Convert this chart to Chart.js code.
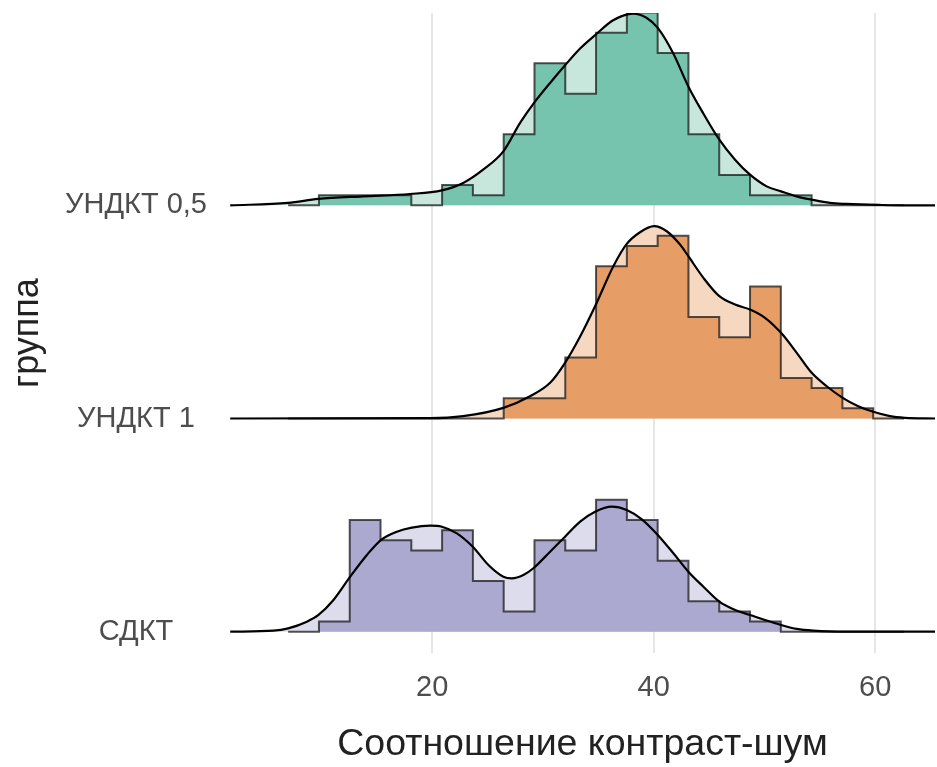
<!DOCTYPE html>
<html>
<head>
<meta charset="utf-8">
<script src="https://cdn.jsdelivr.net/npm/chart.js@4.4.1/dist/chart.umd.min.js"></script>
<style>
  html, body { margin: 0; padding: 0; background: #fff; }
  canvas { display: block; }
</style>
</head>
<body>
<canvas id="chart" width="937" height="767"></canvas>
<script>
// groups, bottom to top
const groups = ["СДКТ", "УНДКТ 1", "УНДКТ 0,5"];

// shared histogram bin edges (width ~2.78)
const binEdges = [7.00, 9.78, 12.56, 15.34, 18.12, 20.90, 23.68, 26.46, 29.24, 32.02,
  34.80, 37.58, 40.36, 43.14, 45.92, 48.70, 51.48, 54.26, 57.04, 59.82, 62.60];

// counts per bin
const countsSDKT = [0, 1, 11, 9, 8, 10, 5, 2, 9, 8, 13, 11, 7, 3, 2, 1, 0, 0, 0, 0];
const countsUNDKT1 = [0, 0, 0, 0, 0, 0, 0, 2, 2, 6, 15, 17, 18, 10, 8, 13, 4, 3, 1, 0];
const countsUNDKT05 = [0, 1, 1, 1, 0, 2, 1, 7, 14, 11, 17, 19, 15, 7, 3, 1, 1, 0, 0, 0];

// density curves (same units as counts)
const densXSDKT = [1.77, 5.68, 7.0, 8.69, 9.74, 11.09, 12.6, 14.11, 15.37, 16.81, 18.17, 19.82,
  20.88, 22.23, 23.67, 25.08, 26.43, 27.19, 28.24, 29.14, 30.65, 32.0, 33.36, 34.71, 36.22,
  37.57, 38.93, 40.37, 41.78, 43.13, 44.49, 45.93, 47.35, 48.7, 50.05, 51.5, 52.92, 54.41, 57.43, 65.4];
const densSDKT = [0, 0.1, 0.33, 0.99, 1.65, 3.12, 5.42, 7.56, 9.03, 9.85, 10.25, 10.44,
  10.34, 9.69, 8.37, 6.57, 5.42, 5.26, 5.59, 6.25, 7.88, 9.36, 10.84, 11.82, 12.32,
  11.99, 11.07, 9.53, 7.72, 5.91, 4.43, 2.96, 2.14, 1.65, 1.15, 0.66, 0.27, 0.1, 0, 0];

const densXUNDKT1 = [1.77, 19.8, 22.8, 26.43, 28.84, 30.65, 32.0, 33.36, 34.71, 36.36, 37.57,
  38.77, 40.04, 41.18, 42.38, 43.13, 44.49, 45.93, 47.35, 48.7, 50.05, 51.5, 52.92, 54.27,
  55.62, 57.07, 58.47, 59.83, 61.34, 62.69, 65.4];
const densUNDKT1 = [0, 0.03, 0.23, 1.05, 2.2, 3.52, 5.49, 8.08, 11.06, 15.0, 17.2,
  18.35, 18.95, 18.45, 17.14, 15.99, 13.86, 12.05, 11.23, 10.74, 9.92, 8.44, 6.47, 4.5,
  3.18, 2.04, 1.21, 0.66, 0.23, 0.07, 0];

const densXUNDKT05 = [1.77, 7.0, 9.71, 13.77, 18.0, 20.88, 22.8, 24.6, 26.43, 27.94, 29.2,
  30.65, 32.0, 33.36, 34.77, 36.34, 38.14, 39.38, 40.37, 41.75, 43.13, 44.46, 45.93, 47.35,
  48.7, 50.2, 51.5, 52.9, 54.27, 55.92, 57.43, 60.43, 62.7, 65.4];
const densUNDKT05 = [0, 0.24, 0.63, 0.89, 1.12, 1.48, 2.21, 3.52, 5.32, 8.12, 10.09,
  12.06, 13.8, 15.45, 16.82, 18.23, 18.89, 18.46, 17.48, 15.01, 11.72, 9.1, 6.47, 4.5,
  3.02, 1.87, 1.38, 0.89, 0.56, 0.24, 0.14, 0.04, 0, 0];

const xTicks = [20, 40, 60];

const ridgeGap = 21; // distance between baselines
const font = "'Liberation Sans', Arial, sans-serif";

const ridges = [
  { counts: countsSDKT, dx: densXSDKT, dy: densSDKT, dark: "#ACA9D1", light: "#DDDCEC" },
  { counts: countsUNDKT1, dx: densXUNDKT1, dy: densUNDKT1, dark: "#E79E66", light: "#F6D8C1" },
  { counts: countsUNDKT05, dx: densXUNDKT05, dy: densUNDKT05, dark: "#76C4AD", light: "#C7E7DD" },
];

const datasets = [];
ridges.forEach((r, i) => {
  const base = i * ridgeGap;
  const hist = [{ x: binEdges[0], y: base }];
  r.counts.forEach((c, k) => hist.push({ x: binEdges[k], y: base + c }));
  hist.push({ x: binEdges[binEdges.length - 1], y: base });
  const dens = r.dx.map((x, k) => ({ x: x, y: base + r.dy[k] }));

  // density area (light)
  datasets.push({
    data: dens, fill: { value: base }, backgroundColor: r.light,
    borderColor: "rgba(0,0,0,0)", borderWidth: 0.01, pointRadius: 0,
    cubicInterpolationMode: "monotone", order: 3,
  });
  // histogram
  datasets.push({
    data: hist, stepped: true, fill: { value: base }, backgroundColor: r.dark,
    borderColor: "rgba(25,25,25,0.75)", borderWidth: 2, pointRadius: 0,
    borderJoinStyle: "miter", order: 2,
  });
  // density line
  datasets.push({
    data: dens, fill: false, borderColor: "#000", borderWidth: 2.2, pointRadius: 0,
    cubicInterpolationMode: "monotone", order: 1,
  });
});

new Chart(document.getElementById("chart"), {
  type: "line",
  data: { datasets: datasets },
  options: {
    responsive: false,
    animation: false,
    events: [],
    layout: { padding: { top: 13, right: 2, left: 0, bottom: 0 } },
    plugins: { legend: { display: false }, tooltip: { enabled: false } },
    scales: {
      x: {
        type: "linear",
        min: 1.75,
        max: 65.4,
        afterBuildTicks: (scale) => { scale.ticks = xTicks.map((v) => ({ value: v })); },
        afterFit: (scale) => {
          scale.height = 114;
          scale.paddingLeft = 0; scale.paddingRight = 0;
        },
        grid: { color: "#E6E6E6", lineWidth: 2, drawTicks: false },
        border: { display: false },
        ticks: { color: "#4D4D4D", font: { family: font, size: 29 }, padding: 18 },
        title: {
          display: true, text: "Соотношение контраст-шум", color: "#222",
          font: { family: font, size: 37.5 }, padding: { top: 0, bottom: 0 },
        },
      },
      y: {
        type: "linear",
        min: -2.1,
        max: 60.95,
        afterBuildTicks: (scale) => { scale.ticks = groups.map((g, i) => ({ value: i * ridgeGap })); },
        afterFit: (scale) => {
          scale.width = 230;
          scale.paddingTop = 0; scale.paddingBottom = 0;
        },
        grid: { display: false },
        border: { display: false },
        ticks: {
          color: "#4D4D4D", font: { family: font, size: 29 }, padding: 15, crossAlign: "center",
          callback: (value) => groups[Math.round(value / ridgeGap)],
        },
        title: {
          display: true, text: "группа", color: "#222",
          font: { family: font, size: 36 }, padding: { top: 6, bottom: 0 },
        },
      },
    },
  },
});
</script>
</body>
</html>
